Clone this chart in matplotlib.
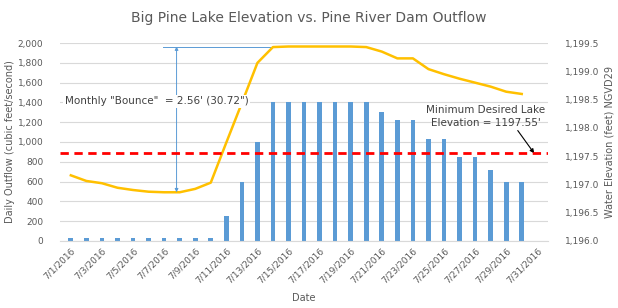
import matplotlib.pyplot as plt
import numpy as np
from matplotlib.ticker import FuncFormatter

# categories: 7/1/2016 .. 7/31/2016
dates = ['7/%d/2016' % d for d in range(1, 32)]

# daily outflow (cfs), 7/31 has no value
outflow = [25, 25, 25, 25, 25, 25, 25, 25, 25, 25,
           250, 600, 1000, 1400, 1400, 1400, 1400, 1400, 1400, 1400,
           1300, 1220, 1220, 1030, 1030, 850, 850, 720, 600, 600]

# lake elevation (ft NGVD29)
elevation = [1197.16, 1197.06, 1197.02, 1196.94, 1196.90, 1196.87, 1196.86, 1196.86,
             1196.92, 1197.03, 1197.74, 1198.44, 1199.15, 1199.43, 1199.44, 1199.44,
             1199.44, 1199.44, 1199.44, 1199.43, 1199.35, 1199.23, 1199.23, 1199.04,
             1198.95, 1198.87, 1198.80, 1198.73, 1198.64, 1198.60]

min_elev = 1197.55
gray = '#595959'

fig = plt.figure(figsize=(6.18, 3.08), dpi=100)
ax = fig.add_axes([0.097, 0.218, 0.79, 0.642])
ax2 = ax.twinx()

x = np.arange(len(dates))
ax.bar(x[:len(outflow)], outflow, width=0.3, color='#5B9BD5', zorder=2)
ax.set_xlim(-0.7, len(dates) - 0.3)
ax.set_ylim(0, 2000)
ax.set_yticks(np.arange(0, 2001, 200))
ax.yaxis.set_major_formatter(FuncFormatter(lambda v, p: '{:,.0f}'.format(v)))
ax.grid(axis='y', color='#D9D9D9', linewidth=0.8, zorder=0)
ax.set_axisbelow(True)
ax.set_xticks(x[::2])
ax.set_xticklabels(dates[::2], rotation=45, ha='right', rotation_mode='anchor')

ax2.plot(x[:len(elevation)], elevation, color='#FFC000', linewidth=1.8, zorder=3)
ax2.axhline(min_elev, color='#FF0000', linestyle=(0, (3, 2)), linewidth=2, zorder=4)
ax2.set_ylim(1196.0, 1199.5)
ax2.set_yticks(np.arange(1196.0, 1199.51, 0.5))
ax2.yaxis.set_major_formatter(FuncFormatter(lambda v, p: '{:,.1f}'.format(v)))

for a in (ax, ax2):
    for s in a.spines.values():
        s.set_visible(False)
    a.tick_params(length=0, labelsize=6.5, labelcolor=gray)
ax.spines['bottom'].set_visible(True)
ax.spines['bottom'].set_color('#D9D9D9')
ax.tick_params(axis='y', pad=12)
ax2.tick_params(axis='y', pad=12)

ax.set_ylabel('Daily Outflow (cubic feet/second)', fontsize=7, color=gray, labelpad=2)
ax2.set_ylabel('Water Elevation (feet) NGVD29', fontsize=7, color=gray, labelpad=4)
ax.set_xlabel('Date', fontsize=7, color=gray, labelpad=6)
fig.text(0.5, 0.94, 'Big Pine Lake Elevation vs. Pine River Dam Outflow',
         ha='center', va='center', fontsize=10, color=gray)

# "bounce" annotation
lo, hi = min(elevation), max(elevation)
ax2.annotate('', xy=(6.8, hi), xytext=(6.8, lo),
             arrowprops=dict(arrowstyle='<|-|>', color='#5B9BD5', lw=0.7,
                             mutation_scale=5, shrinkA=0, shrinkB=0))
ax2.plot([5.9, 12.8], [hi, hi], color='#5B9BD5', lw=0.7)
ax2.text(-0.4, 1198.47, 'Monthly "Bounce"  = 2.56\' (30.72")', fontsize=7.5,
         color='#404040', va='center', ha='left',
         bbox=dict(facecolor='white', edgecolor='none', pad=1))

ax2.annotate('Minimum Desired Lake\nElevation = 1197.55\'', xy=(29.8, min_elev),
             xytext=(26.7, 1198.2), fontsize=7.5, color='#404040', ha='center',
             va='center', linespacing=1.3,
             arrowprops=dict(arrowstyle='-|>', color='black', lw=0.8,
                             mutation_scale=6, shrinkA=0, shrinkB=0,
                             relpos=(0.75, 0.0)))

plt.savefig('out.png', dpi=100)
